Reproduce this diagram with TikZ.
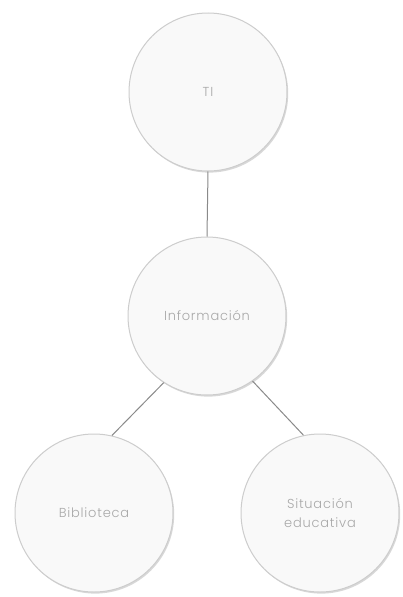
\documentclass[tikz,border=0pt]{standalone}
\usepackage{fontspec}
\setmainfont[LetterSpace=6]{Poppins Light}
\usetikzlibrary{shadows}
\definecolor{circfill}{HTML}{F9F9F9}
\definecolor{circline}{HTML}{CDCDCD}
\definecolor{txtgray}{HTML}{A8A8A8}
\definecolor{linkgray}{HTML}{8A8A8A}
\tikzset{
  bubble/.style={circle, draw=circline, line width=1pt, fill=circfill,
    minimum size=158pt, inner sep=0pt, align=center, text=txtgray,
    font=\fontsize{13pt}{19pt}\selectfont,
    drop shadow={shadow xshift=1.2pt, shadow yshift=-1.6pt, opacity=0.3, fill=gray}},
  link/.style={draw=linkgray, line width=1pt}
}
\begin{document}
\begin{tikzpicture}[x=1pt,y=-1pt]
\fill[white] (0,0) rectangle (402,597);
\useasboundingbox (0,0) rectangle (402,597);
\node[bubble] (ti) at (208,92) {TI};
\node[bubble] (info) at (207,316) {Información};
\node[bubble] (bib) at (94,513) {Biblioteca};
\node[bubble] (sit) at (320,513) {Situación\\educativa};
\draw[link] (ti.south) -- (info.north);
\draw[link] (info.237) -- (bib.77);
\draw[link] (info.305) -- (sit.102);
\end{tikzpicture}
\end{document}
